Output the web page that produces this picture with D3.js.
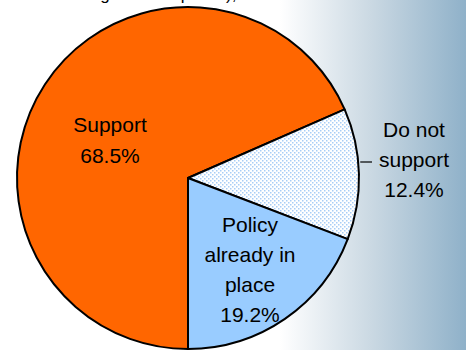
<!DOCTYPE html>
<html>
<head>
<meta charset="utf-8">
<script src="https://cdn.jsdelivr.net/npm/d3@7"></script>
<style>
  html, body { margin: 0; padding: 0; background: #fff; }
  svg { display: block; }
</style>
</head>
<body>
<svg id="chart" width="466" height="350"></svg>
<script>
// Share of responses, in drawing order (clockwise from the bottom)
const categories = ["Support", "Do not support", "Policy already in place"];
const values = [68.5, 12.4, 19.2];
const labelLines = [
  ["Support", "68.5%"],
  ["Do not", "support", "12.4%"],
  ["Policy", "already in", "place", "19.2%"]
];
const titleText = "excluding neutral opinion),";

const W = 466, H = 350;
const cx = 188, cy = 178, R = 171;

const svg = d3.select("#chart");
const defs = svg.append("defs");

// Backdrop: white fading to steel blue on the right
const grad = defs.append("linearGradient")
  .attr("id", "bg").attr("gradientUnits", "userSpaceOnUse")
  .attr("x1", 0).attr("x2", W).attr("y1", 0).attr("y2", 0);
grad.append("stop").attr("offset", 280 / W).attr("stop-color", "#ffffff");
grad.append("stop").attr("offset", 370 / W).attr("stop-color", "#cbd9e3");
grad.append("stop").attr("offset", 1).attr("stop-color", "#8fb1c9");
svg.append("rect").attr("width", W).attr("height", H).attr("fill", "url(#bg)");

// Fine dot fill for the "Do not support" slice
const pat = defs.append("pattern")
  .attr("id", "dots").attr("patternUnits", "userSpaceOnUse")
  .attr("width", 4).attr("height", 4);
pat.append("rect").attr("width", 4).attr("height", 4).attr("fill", "#ffffff");
pat.append("rect").attr("x", 0).attr("y", 0).attr("width", 1.5).attr("height", 1.5).attr("fill", "#a8cdf6");
pat.append("rect").attr("x", 2).attr("y", 2).attr("width", 1.5).attr("height", 1.5).attr("fill", "#a8cdf6");

const fills = d3.scaleOrdinal()
  .domain(categories)
  .range(["#ff6600", "url(#dots)", "#99ccff"]);

const font = "Arial, 'Liberation Sans', sans-serif";

// Title line, mostly above the top edge
svg.append("text")
  .attr("x", 38).attr("y", 0)
  .attr("font-family", font)
  .attr("font-size", 17).attr("fill", "#000")
  .text(titleText);

const pie = d3.pie().sort(null).value(d => d.value)
  .startAngle(Math.PI).endAngle(3 * Math.PI);
const arcs = pie(categories.map((c, i) => ({ name: c, value: values[i] })));
const arc = d3.arc().innerRadius(0).outerRadius(R);

const g = svg.append("g").attr("transform", `translate(${cx},${cy})`);
g.selectAll("path.slice")
  .data(arcs)
  .join("path")
  .attr("class", "slice")
  .attr("d", arc)
  .attr("fill", d => fills(d.data.name))
  .attr("stroke", "#000")
  .attr("stroke-width", 2)
  .attr("stroke-linejoin", "round");

// Label placement: Support and Policy inside, Do not support outside with a leader
const labelPos = [
  { x: 110, y: 132, dy: 30.5 },
  { x: 414, y: 137, dy: 30 },
  { x: 250, y: 232, dy: 30 }
];

labelLines.forEach((lines, i) => {
  const p = labelPos[i];
  const t = svg.append("text")
    .attr("font-family", font).attr("font-size", 21)
    .attr("fill", "#000").attr("text-anchor", "middle");
  lines.forEach((ln, j) => {
    t.append("tspan").attr("x", p.x).attr("y", p.y + j * p.dy).text(ln);
  });
});

// Leader for the outside label, from the rim outward
const leaderY = 162;
const rimX = cx + Math.sqrt(R * R - (leaderY - cy) * (leaderY - cy));
svg.append("line")
  .attr("x1", rimX + 2).attr("x2", 372)
  .attr("y1", leaderY).attr("y2", leaderY)
  .attr("stroke", "#000").attr("stroke-width", 1.2);
</script>
</body>
</html>
